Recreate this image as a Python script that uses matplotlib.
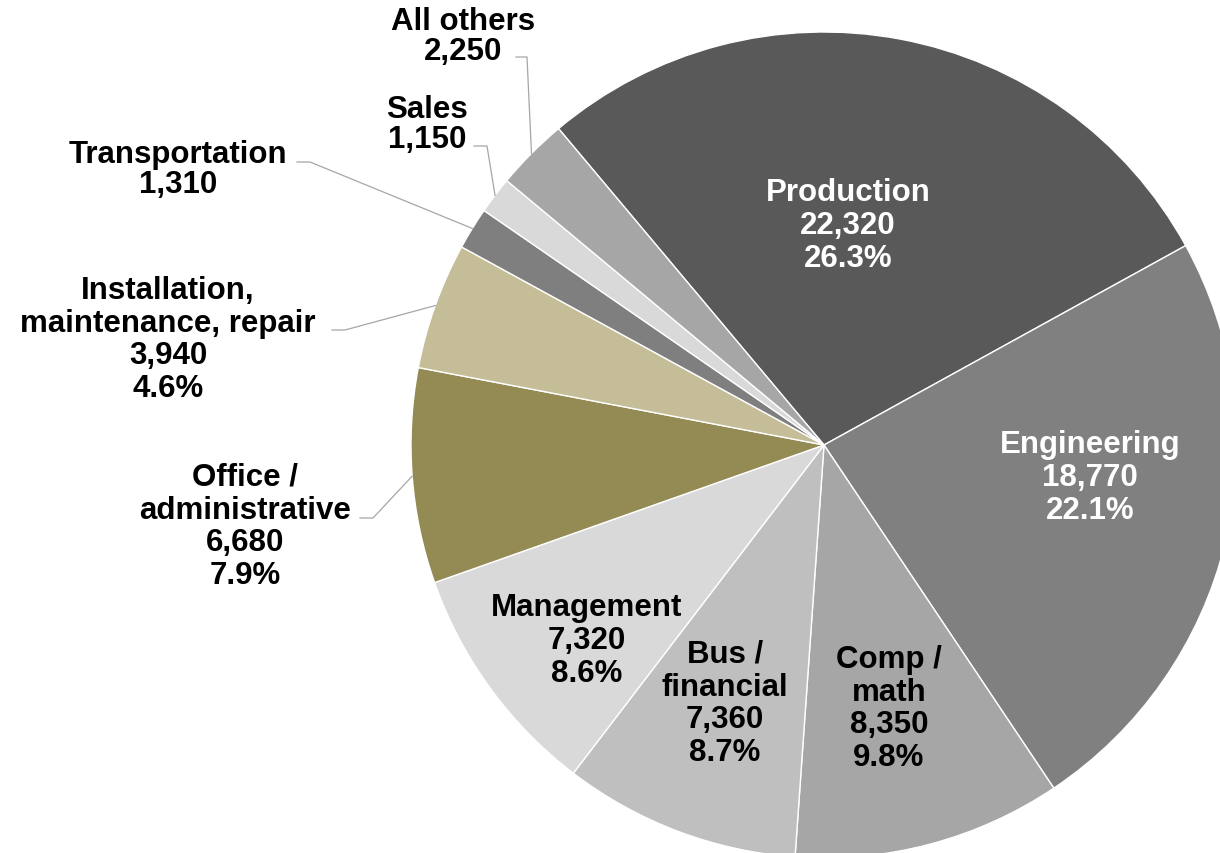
import numpy as np
import matplotlib.pyplot as plt

# data
categories = ['Production', 'Engineering', 'Comp /\nmath', 'Bus /\nfinancial', 'Management',
              'Office /\nadministrative', 'Installation,\nmaintenance, repair',
              'Transportation', 'Sales', 'All others']
values = [22320, 18770, 8350, 7360, 7320, 6680, 3940, 1310, 1150, 2250]
pct_labels = ['26.3%', '22.1%', '9.8%', '8.7%', '8.6%', '7.9%', '4.6%', None, None, None]

colors = ['#595959', '#808080', '#a6a6a6', '#bfbfbf', '#d9d9d9',
          '#948a54', '#c4bd97', '#7f7f7f', '#d9d9d9', '#a6a6a6']
text_colors = ['white', 'white', 'black', 'black', 'black',
               'black', 'black', 'black', 'black', 'black']

# layout in pixel coords (y measured from top of image)
W, H = 1220, 854
cx, cy, R = 824, 446, 413
label_pos = [(848, 226), (1090, 478), (889, 709), (725, 704), (587, 641),
             (245, 527), (168, 340), (178, 170), (427, 125), (463, 37)]
# elbow point and end of horizontal leader segment (outside labels only)
leader = {5: ((373, 519), 360), 6: ((345, 331), 332), 7: ((310, 163), 297),
          8: ((487, 147), 474), 9: ((527, 58), 516)}

plt.rcParams['font.family'] = ['Liberation Sans', 'DejaVu Sans']

fig = plt.figure(figsize=(W / 100, H / 100), dpi=100)
ax = fig.add_axes([0, 0, 1, 1])

wedges, _ = ax.pie(values, colors=colors, startangle=130, counterclock=False,
                   radius=R, center=(cx, H - cy),
                   wedgeprops=dict(edgecolor='white', linewidth=1.0))
ax.set_xlim(0, W)
ax.set_ylim(0, H)
ax.set_aspect('equal')
ax.axis('off')

for i, w in enumerate(wedges):
    text = f'{categories[i]}\n{values[i]:,}'
    if pct_labels[i]:
        text += '\n' + pct_labels[i]
    x, y = label_pos[i]
    ls = 1.0 if pct_labels[i] is None else 1.13
    ax.text(x, H - y, text, ha='center', va='center', multialignment='center',
            fontsize=22.5, fontweight='bold', color=text_colors[i], linespacing=ls)
    if i in leader:
        mid = np.deg2rad((w.theta1 + w.theta2) / 2)
        ex, ey = cx + R * np.cos(mid), (H - cy) + R * np.sin(mid)
        (bx, by), tx = leader[i]
        ax.plot([ex, bx, tx], [ey, H - by, H - by], color='#a6a6a6', lw=0.9)

fig.savefig('out.png', dpi=100)
